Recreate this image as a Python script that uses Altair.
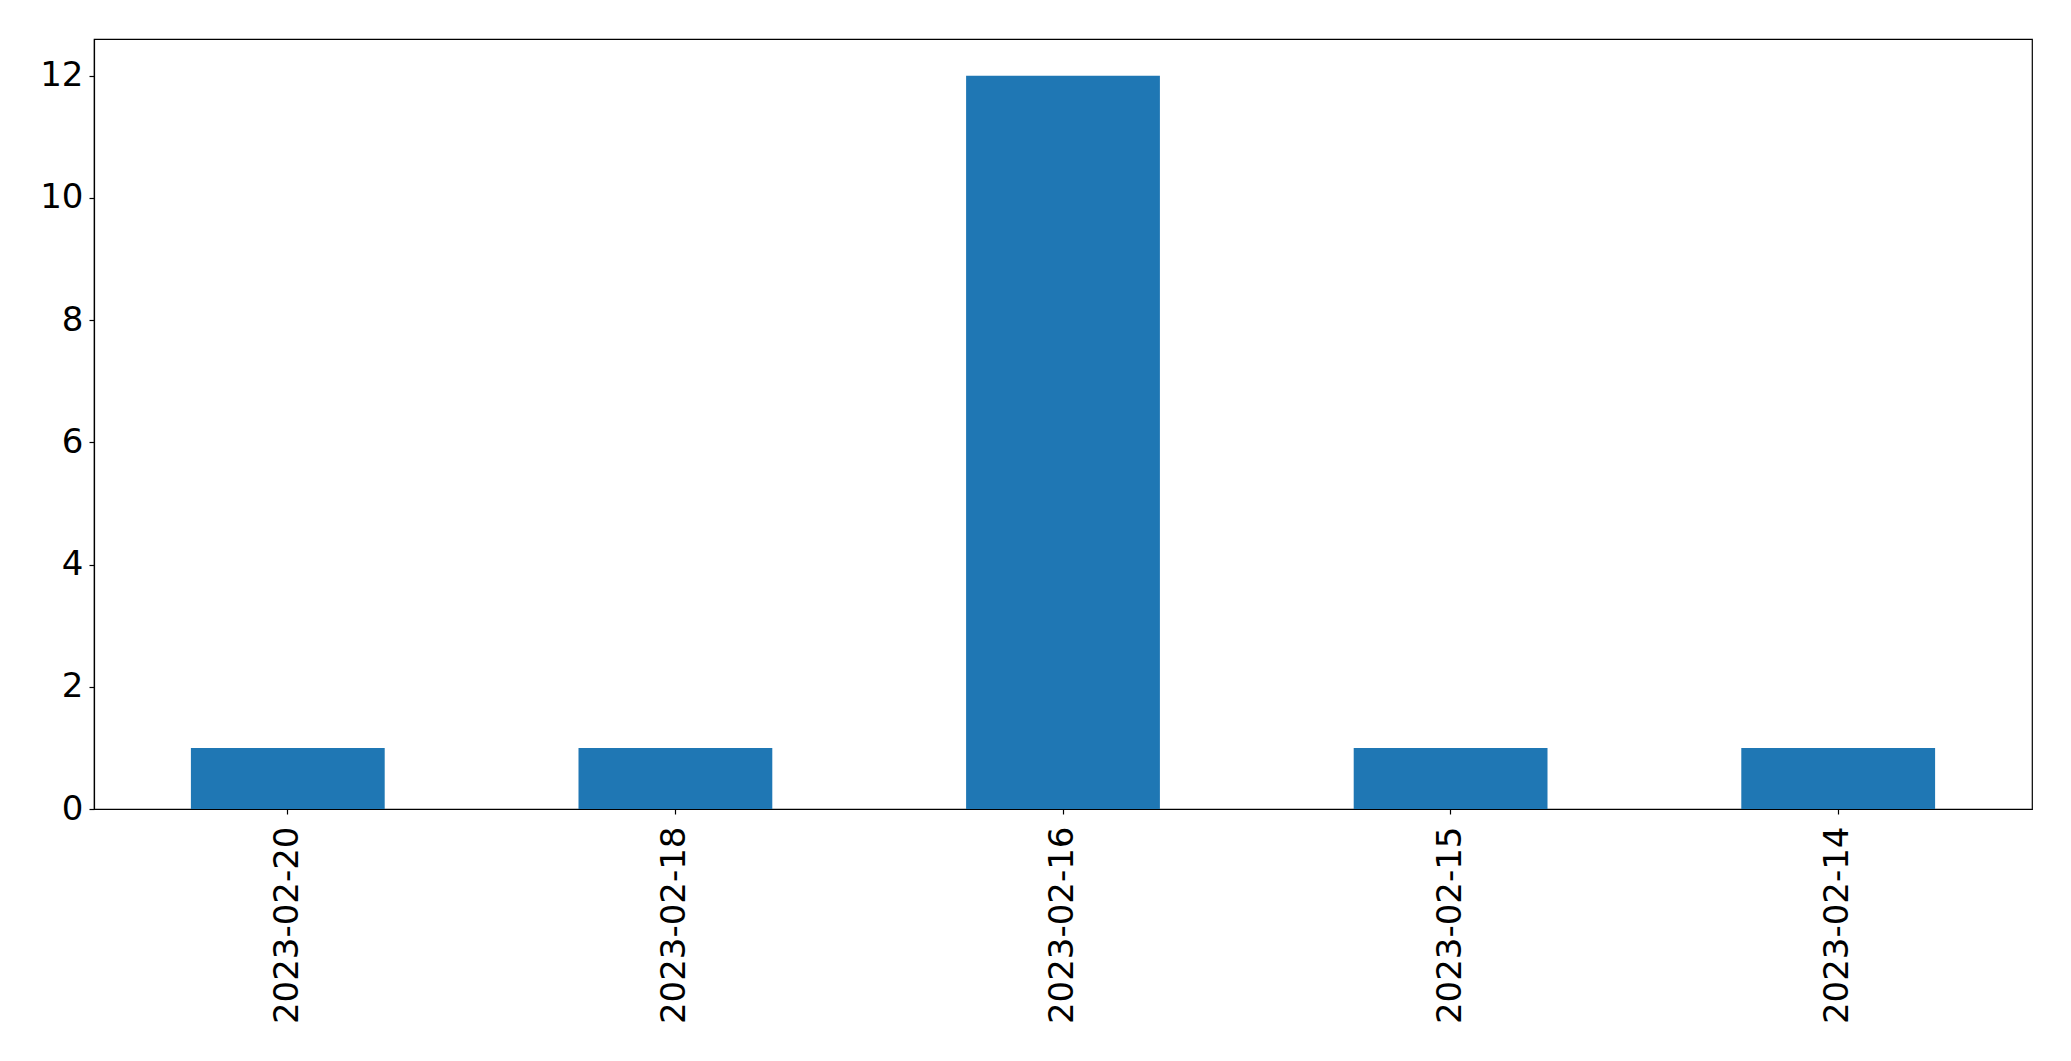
import altair as alt
import pandas as pd

dates = ["2023-02-20", "2023-02-18", "2023-02-16", "2023-02-15", "2023-02-14"]
counts = [1, 1, 12, 1, 1]
y_ticks = [0, 2, 4, 6, 8, 10, 12]

df = pd.DataFrame({"date": dates, "count": counts})

chart = alt.Chart(df).mark_bar(color="#1f77b4").encode(
    x=alt.X("date:N", sort=dates,
            scale=alt.Scale(paddingInner=0.5, paddingOuter=0.25),
            axis=alt.Axis(title=None, labelAngle=-90, labelFontSize=34,
                          labelFont="DejaVu Sans", labelColor="black",
                          labelLimit=0,
                          tickSize=5, tickColor="black", labelPadding=12,
                          domainColor="black", grid=False)),
    y=alt.Y("count:Q", scale=alt.Scale(domain=[0, 12.6], nice=False, zero=True),
            axis=alt.Axis(title=None, values=y_ticks, labelFontSize=34,
                          labelFont="DejaVu Sans", labelColor="black",
                          tickSize=5, tickColor="black", labelPadding=6,
                          domainColor="black", grid=False)),
).properties(
    width=1938, height=770,
    autosize=alt.AutoSizeParams(type="none"),
    padding={"left": 86, "top": 31, "right": 30, "bottom": 240},
).configure_view(stroke="black", strokeWidth=1.2).configure_axis(domainWidth=1.2, tickWidth=1.2)

chart.save("out.html", embed_options={"renderer": "svg", "actions": False})
